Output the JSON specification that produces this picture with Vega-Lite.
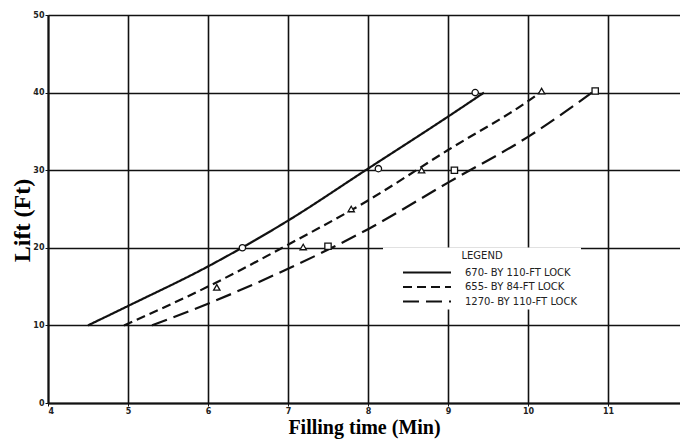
{
  "$schema": "https://vega.github.io/schema/vega-lite/v6.json",
  "width": 632,
  "height": 388,
  "autosize": {"type": "none"},
  "padding": {"left": 48, "top": 15, "right": 0, "bottom": 36},
  "background": "white",
  "config": {
    "view": {"stroke": null},
    "axis": {
      "grid": true,
      "gridColor": "#111",
      "gridWidth": 1.6,
      "gridOpacity": 1,
      "domainColor": "#111",
      "domainWidth": 2,
      "tickColor": "#111",
      "tickSize": 3,
      "labelFont": "DejaVu Sans",
      "labelFontSize": 8,
      "labelFontWeight": "bold",
      "labelColor": "#222",
      "titleFont": "Liberation Serif",
      "titleFontSize": 20,
      "titleFontWeight": "bold",
      "titleColor": "#000"
    }
  },
  "datasets": {
    "curves": [
      {"lock": "670- BY 110-FT LOCK", "t": 4.5, "lift": 10},
      {"lock": "670- BY 110-FT LOCK", "t": 5.0, "lift": 12.5},
      {"lock": "670- BY 110-FT LOCK", "t": 6.0, "lift": 17.6},
      {"lock": "670- BY 110-FT LOCK", "t": 7.0, "lift": 23.5},
      {"lock": "670- BY 110-FT LOCK", "t": 8.0, "lift": 30.2},
      {"lock": "670- BY 110-FT LOCK", "t": 9.0, "lift": 36.9},
      {"lock": "670- BY 110-FT LOCK", "t": 9.45, "lift": 40},
      {"lock": "655- BY 84-FT LOCK", "t": 4.95, "lift": 10},
      {"lock": "655- BY 84-FT LOCK", "t": 6.0, "lift": 15.0},
      {"lock": "655- BY 84-FT LOCK", "t": 7.0, "lift": 20.4},
      {"lock": "655- BY 84-FT LOCK", "t": 8.0, "lift": 26.1},
      {"lock": "655- BY 84-FT LOCK", "t": 9.0, "lift": 32.6},
      {"lock": "655- BY 84-FT LOCK", "t": 10.0, "lift": 38.9},
      {"lock": "655- BY 84-FT LOCK", "t": 10.15, "lift": 40},
      {"lock": "1270- BY 110-FT LOCK", "t": 5.3, "lift": 10},
      {"lock": "1270- BY 110-FT LOCK", "t": 6.0, "lift": 12.8},
      {"lock": "1270- BY 110-FT LOCK", "t": 7.0, "lift": 17.3},
      {"lock": "1270- BY 110-FT LOCK", "t": 8.0, "lift": 22.4},
      {"lock": "1270- BY 110-FT LOCK", "t": 9.0, "lift": 28.4},
      {"lock": "1270- BY 110-FT LOCK", "t": 10.0, "lift": 34.3},
      {"lock": "1270- BY 110-FT LOCK", "t": 10.8, "lift": 40}
    ],
    "points": [
      {"series": "670", "t": 6.43, "lift": 20},
      {"series": "670", "t": 8.13, "lift": 30.2},
      {"series": "670", "t": 9.34, "lift": 40},
      {"series": "655", "t": 6.11, "lift": 14.9},
      {"series": "655", "t": 7.19, "lift": 20.1},
      {"series": "655", "t": 7.79, "lift": 25},
      {"series": "655", "t": 8.67, "lift": 30},
      {"series": "655", "t": 10.17, "lift": 40.2},
      {"series": "1270", "t": 7.5, "lift": 20.2},
      {"series": "1270", "t": 9.08, "lift": 30},
      {"series": "1270", "t": 10.84, "lift": 40.2}
    ]
  },
  "layer": [
    {
      "data": {"name": "curves"},
      "mark": {"type": "line", "interpolate": "monotone", "color": "#111", "strokeWidth": 2.2},
      "encoding": {
        "x": {
          "field": "t", "type": "quantitative",
          "scale": {"domain": [4, 11.9], "nice": false, "zero": false},
          "axis": {"values": [4, 5, 6, 7, 8, 9, 10, 11], "format": "d", "title": "Filling time (Min)", "titlePadding": 2, "labelPadding": 1}
        },
        "y": {
          "field": "lift", "type": "quantitative",
          "scale": {"domain": [0, 50], "nice": false},
          "axis": {
            "values": [0, 10, 20, 30, 40, 50], "title": "Lift (Ft)", "labelPadding": 1,
            "titleFontSize": 24, "titleX": -26, "titleY": 205, "titleBaseline": "middle", "titleAlign": "center", "titleAngle": -90
          }
        },
        "detail": {"field": "lock"},
        "strokeDash": {
          "field": "lock", "type": "nominal",
          "scale": {
            "domain": ["670- BY 110-FT LOCK", "655- BY 84-FT LOCK", "1270- BY 110-FT LOCK"],
            "range": [[1, 0], [9, 5], [16, 7]]
          },
          "legend": {
            "title": "LEGEND",
            "orient": "none",
            "legendX": 335,
            "legendY": 232.5,
            "fillColor": "white",
            "padding": 3,
            "titleFont": "DejaVu Sans",
            "titleFontSize": 10,
            "titleFontWeight": "normal",
            "titleColor": "#222",
            "titleAnchor": "middle",
            "titlePadding": 5,
            "symbolType": "M-4,0H4",
            "symbolSize": 144,
            "symbolOffset": 34,
            "symbolStrokeWidth": 2,
            "symbolStrokeColor": "#111",
            "labelFont": "DejaVu Sans",
            "labelFontSize": 10,
            "labelColor": "#222",
            "labelOffset": 31,
            "rowPadding": 2.5,
            "offset": 0
          }
        }
      }
    },
    {
      "data": {"name": "points"},
      "mark": {"type": "point", "filled": true, "fill": "white", "stroke": "#111", "strokeWidth": 1.3, "size": 40, "opacity": 1},
      "encoding": {
        "x": {"field": "t", "type": "quantitative"},
        "y": {"field": "lift", "type": "quantitative"},
        "shape": {
          "field": "series", "type": "nominal",
          "scale": {
            "domain": ["670", "655", "1270"],
            "range": ["circle", "triangle-up", "square"]
          },
          "legend": null
        }
      }
    }
  ]
}
